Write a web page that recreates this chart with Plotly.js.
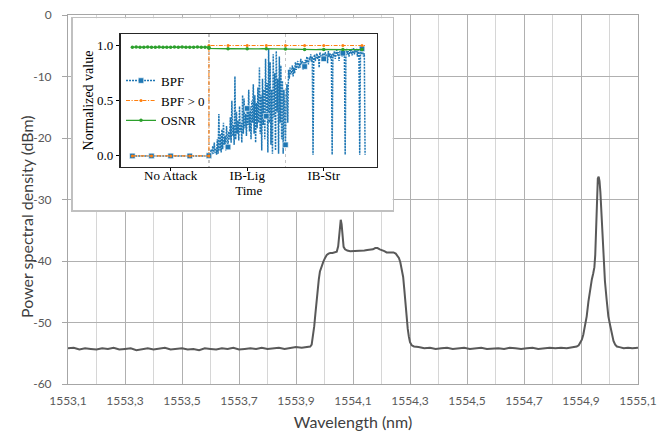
<!DOCTYPE html>
<html>
<head>
<meta charset="utf-8">
<script src="https://cdn.plot.ly/plotly-3.0.1.min.js"></script>
<style>html,body{margin:0;padding:0;background:#fff;}#chart{width:667px;height:436px;}</style>
</head>
<body>
<div id="chart"></div>
<script>
// ---------- Main spectrum ----------
const wavelength = [
  1553.10,1553.12,1553.14,1553.16,1553.18,1553.20,1553.22,1553.24,1553.26,1553.28,
  1553.30,1553.32,1553.34,1553.36,1553.38,1553.40,1553.42,1553.44,1553.46,1553.48,
  1553.50,1553.52,1553.54,1553.56,1553.58,1553.60,1553.62,1553.64,1553.66,1553.68,
  1553.70,1553.72,1553.74,1553.76,1553.78,1553.80,1553.82,1553.84,1553.86,1553.88,
  1553.90,1553.92,1553.94,
  1553.950,1553.955,1553.960,1553.964,1553.968,1553.972,1553.976,1553.980,1553.984,1553.990,
  1553.996,1554.002,1554.008,1554.014,1554.020,1554.028,1554.036,1554.043,1554.048,1554.051,
  1554.054,1554.057,1554.060,1554.063,1554.067,1554.072,1554.080,1554.090,1554.100,1554.110,
  1554.120,1554.130,1554.140,1554.150,1554.160,1554.170,1554.178,1554.186,1554.194,1554.202,
  1554.210,1554.218,1554.226,1554.234,1554.242,1554.250,1554.256,1554.261,1554.266,1554.271,
  1554.276,1554.280,1554.284,1554.288,1554.292,1554.296,1554.300,1554.306,1554.314,
  1554.33,1554.35,1554.37,1554.39,1554.41,1554.43,1554.45,1554.47,1554.49,1554.51,
  1554.53,1554.55,1554.57,1554.59,1554.61,1554.63,1554.65,1554.67,1554.69,1554.71,
  1554.73,1554.75,1554.77,1554.79,1554.81,1554.83,1554.85,1554.87,
  1554.885,1554.892,1554.898,1554.903,1554.908,1554.914,1554.920,1554.926,1554.932,1554.938,
  1554.943,1554.947,1554.950,1554.953,1554.956,1554.959,1554.962,1554.965,1554.968,1554.971,
  1554.974,1554.977,1554.980,1554.984,1554.990,1554.996,1555.002,1555.008,1555.014,1555.020,
  1555.026,1555.035,1555.050,1555.065,1555.080,1555.100
];
const power = [
  -54.2,-54.1,-54.4,-54.2,-54.3,-54.4,-54.2,-54.3,-54.1,-54.4,
  -54.3,-54.2,-54.5,-54.3,-54.2,-54.4,-54.3,-54.1,-54.4,-54.3,
  -54.2,-54.4,-54.3,-54.5,-54.2,-54.3,-54.4,-54.2,-54.3,-54.1,
  -54.4,-54.3,-54.2,-54.3,-54.1,-54.3,-54.2,-54.1,-54.3,-54.2,
  -54.0,-54.1,-53.9,
  -53.9,-53.6,-52.2,-50.6,-48.6,-46.4,-44.6,-43.0,-41.7,-40.7,
  -40.1,-39.5,-39.0,-38.8,-38.7,-38.7,-38.6,-38.5,-37.6,-36.4,
  -34.2,-33.3,-34.0,-36.3,-37.7,-38.1,-38.3,-38.4,-38.4,-38.3,
  -38.4,-38.3,-38.3,-38.2,-38.2,-38.1,-37.9,-37.9,-38.1,-38.2,
  -38.4,-38.6,-38.6,-38.5,-38.6,-38.8,-39.1,-39.5,-40.2,-41.2,
  -42.6,-44.6,-47.0,-49.2,-51.0,-52.3,-53.2,-53.7,-53.9,
  -54.0,-54.2,-54.1,-54.3,-54.2,-54.1,-54.3,-54.2,-54.1,-54.3,
  -54.2,-54.1,-54.3,-54.2,-54.2,-54.3,-54.1,-54.2,-54.3,-54.2,
  -54.1,-54.3,-54.2,-54.1,-54.2,-54.1,-54.2,-54.0,
  -53.9,-53.7,-53.3,-52.8,-52.0,-50.6,-49.0,-46.6,-44.4,-43.0,
  -42.0,-41.0,-39.0,-34.6,-29.5,-26.6,-26.3,-27.0,-28.8,-31.6,
  -34.6,-38.6,-41.4,-43.3,-46.3,-49.0,-50.4,-51.8,-53.0,-53.6,
  -53.9,-54.0,-54.2,-54.1,-54.2,-54.1
];
const yTickVals = [-60,-50,-40,-30,-20,-10,0];
const yTickText = ['-60','-50','-40','-30','-20','-10','0'];

// ---------- Inset (normalized values over time) ----------
const segments = ['No Attack','IB-Lig','IB-Str'];
const segStart = [0,100,200];
const bpfStep = [5,1,1];
const osnrStep = [5,5,5];
const insetTickVals = [0,0.5,1];
const insetTickText = ['0.0','0.5','1.0'];

const bpfNoAttack = [0,0,0,0,0,0,0,0,0,0,0,0,0,0,0,0,0,0,0,0,0];
const bpfIBLig = [
  0.003,0.02,0.005,0.06,0.01,0.09,0.02,0.12,0.03,0.07,
  0.01,0.15,0.02,0.38,0.05,0.20,0.03,0.24,0.06,0.30,
  0.10,0.18,0.05,0.27,0.12,0.08,0.22,0.15,0.35,0.12,
  0.50,0.18,0.28,0.10,0.72,0.15,0.40,0.20,0.32,0.14,
  0.45,0.22,0.30,0.12,0.55,0.20,0.52,0.25,0.38,0.18,
  0.43,0.28,0.60,0.22,0.45,0.15,0.50,0.30,0.65,0.20,
  0.55,0.12,0.48,0.25,0.62,0.30,0.80,0.20,0.55,0.05,
  0.70,0.28,0.60,0.15,0.88,0.36,0.66,0.03,0.97,0.30,
  0.85,0.10,0.60,0.02,0.92,0.35,0.75,0.05,0.95,0.40,
  0.70,0.02,0.90,0.30,0.82,0.15,0.68,0.02,0.60,0.25
];
const bpfIBStr = [
  0.10,0.55,0.65,0.30,0.78,0.70,0.80,0.74,0.76,0.82,
  0.72,0.80,0.75,0.85,0.78,0.82,0.86,0.79,0.84,0.80,
  0.88,0.83,0.86,0.78,0.85,0.81,0.87,0.84,0.90,0.86,
  0.83,0.89,0.87,0.92,0.85,0.90,0.01,0.88,0.92,0.86,
  0.90,0.93,0.88,0.91,0.80,0.94,0.89,0.92,0.87,0.93,
  0.88,0.91,0.94,0.89,0.92,0.84,0.95,0.90,0.93,0.88,
  0.92,0.01,0.93,0.90,0.95,0.88,0.93,0.96,0.91,0.94,
  0.86,0.95,0.92,0.96,0.90,0.93,0.95,0.91,0.01,0.94,
  0.97,0.92,0.95,0.90,0.96,0.93,0.97,0.91,0.95,0.98,
  0.92,0.96,0.94,0.97,0.90,0.96,0.93,0.01,0.95,0.92,
  0.97,0.94,0.90,0.93,0.01
];
const osnrNoAttack = [0.985,0.986,0.984,0.985,0.987,0.985,0.984,0.986,0.985,0.985,
  0.984,0.986,0.985,0.987,0.985,0.984,0.985,0.986,0.985,0.984,0.985];
const osnrIBLig = [0.975,0.973,0.972,0.974,0.973,0.971,0.973,0.972,0.974,0.972,
  0.971,0.973,0.972,0.970,0.972,0.971,0.973,0.971,0.970,0.972];
const osnrIBStr = [0.968,0.966,0.967,0.965,0.966,0.964,0.966,0.965,0.963,0.965,
  0.964,0.966,0.964,0.963,0.965,0.964,0.962,0.964,0.963,0.965,0.964];

function build(arrs, steps) {
  const xs = [], ys = [], seg = [];
  arrs.forEach((a, s) => a.forEach((v, k) => { xs.push(segStart[s] + k * steps[s]); ys.push(v); seg.push(s); }));
  return {xs, ys, seg};
}
const bpf = build([bpfNoAttack, bpfIBLig, bpfIBStr], bpfStep);
const osnr = build([osnrNoAttack, osnrIBLig, osnrIBStr], osnrStep);
const bpfPos = bpf.ys.map(v => v > 0 ? 1 : 0);
const every25 = x => x % 25 === 0;
const none = 'rgba(0,0,0,0)';
const BLUE = '#1f77b4', ORANGE = '#ff7f0e', GREEN = '#2ca02c';

const traces = [
  { x: wavelength, y: power, xaxis: 'x', yaxis: 'y', type: 'scatter', mode: 'lines',
    line: {color: '#595959', width: 2}, showlegend: false, hoverinfo: 'skip' },
  // holder subplot for the white inset frame (no marks)
  { x: [], y: [], xaxis: 'x2', yaxis: 'y2', type: 'scatter', mode: 'lines',
    showlegend: false, hoverinfo: 'skip' },
  { x: bpf.xs, y: bpf.ys, xaxis: 'x3', yaxis: 'y3', type: 'scatter', mode: 'lines+markers', name: 'BPF',
    line: {color: BLUE, width: 1.5, dash: '2px,1px'},
    marker: {symbol: 'square', size: 5.5,
      color: bpf.xs.map(x => every25(x) ? BLUE : none),
      line: {width: 0.6, color: bpf.xs.map(x => every25(x) ? '#ffffff' : none)}} },
  { x: bpf.xs, y: bpfPos, xaxis: 'x3', yaxis: 'y3', type: 'scatter', mode: 'lines+markers', name: 'BPF > 0',
    line: {color: ORANGE, width: 1.1, dash: '4px,1.5px,1.2px,1.5px'},
    marker: {symbol: 'circle', size: 3, color: bpf.xs.map(x => every25(x) ? ORANGE : none)} },
  { x: osnr.xs, y: osnr.ys, xaxis: 'x3', yaxis: 'y3', type: 'scatter', mode: 'lines+markers', name: 'OSNR',
    line: {color: GREEN, width: 1.3},
    marker: {symbol: 'circle', size: 3.5,
      color: osnr.xs.map((x, i) => (osnr.seg[i] === 0 || every25(x)) ? GREEN : none)} }
];

const serif = 'Liberation Serif, Times New Roman, serif';
const layout = {
  width: 667, height: 436,
  margin: {l: 68, r: 29, t: 15, b: 52},
  paper_bgcolor: '#ffffff', plot_bgcolor: '#ffffff',
  separators: ',.',
  font: {family: 'Lato, sans-serif', color: '#595959'},
  showlegend: true,
  xaxis: {
    range: [1553.1, 1555.1], tick0: 1553.1, dtick: 0.2, tickformat: '.1f',
    showgrid: true, gridcolor: '#b0b0b0', gridwidth: 1,
    minor: {dtick: 0.1, tick0: 1553.1, showgrid: true, gridcolor: '#d6d6d6', gridwidth: 1, ticks: ''},
    showline: true, linecolor: '#a6a6a6', linewidth: 1, mirror: true, zeroline: false,
    ticks: '', ticklabelstandoff: 6,
    tickfont: {family: 'Lato, sans-serif', size: 12, color: '#595959'},
    title: {text: 'Wavelength (nm)', font: {family: 'Lato, sans-serif', size: 16, color: '#404040'}, standoff: 9}
  },
  yaxis: {
    range: [-60, 0], tickmode: 'array', tickvals: yTickVals, ticktext: yTickText,
    showgrid: true, gridcolor: '#b0b0b0', gridwidth: 1,
    showline: true, linecolor: '#a6a6a6', linewidth: 1, mirror: true, zeroline: false,
    ticks: 'outside', ticklen: 5, tickcolor: '#a6a6a6', ticklabelstandoff: 8,
    tickfont: {family: 'Lato, sans-serif', size: 12, color: '#595959'}
  },
  // white framed box that holds the inset
  xaxis2: {
    domain: [0.0082, 0.5696], anchor: 'y2', range: [0, 1],
    showgrid: false, zeroline: false, showticklabels: false, ticks: '',
    showline: true, mirror: true, linecolor: '#c0c0c0', linewidth: 1.5
  },
  yaxis2: {
    domain: [0.4715, 0.991], anchor: 'x2', range: [0, 1],
    showgrid: false, zeroline: false, showticklabels: false, ticks: '',
    showline: true, mirror: true, linecolor: '#c0c0c0', linewidth: 1.5
  },
  xaxis3: {
    domain: [0.0925, 0.5416], anchor: 'y3', range: [-15.2, 319.2],
    tickmode: 'array', tickvals: segStart.map(s => s + 50), ticktext: segments,
    ticks: 'outside', ticklen: 3.5, tickcolor: '#000', tickwidth: 1,
    showline: true, mirror: true, linecolor: '#262626', linewidth: 1.3,
    showgrid: false, zeroline: false, ticklabelstandoff: -7,
    minor: {tickmode: 'array', tickvals: segStart.slice(1), showgrid: true, gridcolor: '#c4c4c4', griddash: 'dot', gridwidth: 1.3, ticks: ''},
    tickfont: {family: serif, size: 13, color: '#000'},
    title: {text: 'Time', font: {family: serif, size: 13, color: '#000'}, standoff: 0}
  },
  yaxis3: {
    domain: [0.5889, 0.9477], anchor: 'x3', range: [-0.098, 1.102],
    tickmode: 'array', tickvals: insetTickVals, ticktext: insetTickText,
    ticks: 'outside', ticklen: 3.5, tickcolor: '#000', tickwidth: 1,
    showline: true, mirror: true, linecolor: '#262626', linewidth: 1.3,
    showgrid: false, zeroline: false,
    tickfont: {family: serif, size: 13, color: '#000'},
    title: {text: 'Normalized value', font: {family: serif, size: 14, color: '#000'}, standoff: 0}
  },
  legend: {
    x: 0.093, xanchor: 'left', y: 0.768, yanchor: 'middle',
    bgcolor: 'rgba(0,0,0,0)', borderwidth: 0,
    font: {family: serif, size: 13, color: '#000'},
    itemwidth: 30, tracegroupgap: 0
  },
  annotations: [{
    text: 'Power spectral density (dBm)', xref: 'paper', yref: 'paper',
    x: -0.0719, y: 0.4526, xanchor: 'center', yanchor: 'middle', textangle: -90,
    showarrow: false, font: {family: 'Lato, sans-serif', size: 16, color: '#404040'}
  }]
};

Plotly.newPlot('chart', traces, layout, {displayModeBar: false, staticPlot: true});
</script>
</body>
</html>
